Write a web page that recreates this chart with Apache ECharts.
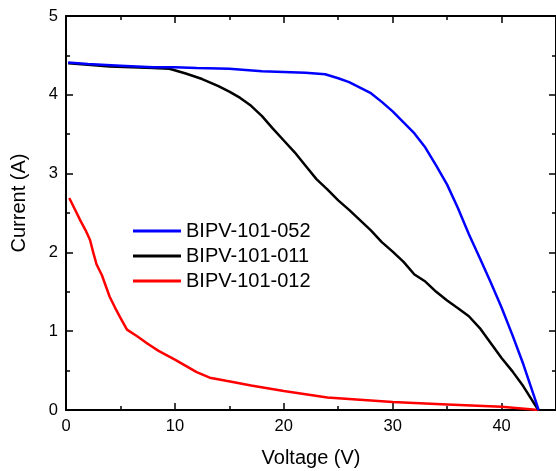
<!DOCTYPE html>
<html>
<head>
<meta charset="utf-8">
<script src="https://cdn.jsdelivr.net/npm/echarts@6/dist/echarts.min.js"></script>
<style>html,body{margin:0;padding:0;background:#fff}#c{width:556px;height:471px}</style>
</head>
<body>
<div id="c"></div>
<script>
var seriesNames = ['BIPV-101-052', 'BIPV-101-011', 'BIPV-101-012'];
var seriesColors = ['#0000ff', '#000000', '#ff0000'];
var blue052 = [[0.2,4.41],[2,4.39],[5,4.37],[8,4.35],[10,4.35],[12,4.34],[15,4.33],[18,4.30],[20,4.29],[22,4.28],[23.8,4.26],[25,4.21],[26,4.16],[27,4.09],[28,4.02],[29,3.91],[30,3.79],[31,3.65],[32,3.51],[33,3.33],[34,3.10],[35,2.86],[36,2.56],[37,2.23],[38,1.93],[39,1.62],[40,1.30],[41,0.95],[42,0.58],[43,0.17],[43.4,0]];
var black011 = [[0.2,4.40],[2,4.38],[4,4.36],[6,4.35],[8,4.34],[9.5,4.33],[11,4.27],[12.5,4.20],[14,4.11],[15,4.04],[16,3.96],[17,3.86],[18,3.73],[19,3.57],[20,3.42],[21,3.27],[22,3.10],[23,2.93],[24,2.80],[25,2.66],[26,2.54],[27,2.41],[28,2.28],[29,2.13],[30,2.01],[31,1.88],[32,1.72],[33,1.63],[34,1.50],[35,1.39],[36,1.29],[37,1.19],[38,1.04],[39,0.85],[40,0.66],[41,0.49],[42,0.30],[43,0.08],[43.4,0]];
var red012 = [[0.3,2.69],[0.8,2.55],[1.3,2.41],[1.8,2.28],[2.2,2.16],[2.5,2.00],[2.8,1.85],[3.3,1.71],[4.0,1.44],[4.5,1.30],[5.0,1.17],[5.6,1.02],[6.5,0.94],[7.5,0.84],[8.5,0.75],[10,0.64],[11,0.56],[12,0.48],[13.2,0.41],[14.7,0.37],[17,0.31],[20,0.24],[22,0.20],[24,0.16],[27,0.13],[30,0.10],[35,0.07],[40,0.04],[43.4,0]];
var xName = 'Voltage (V)';
var yName = 'Current (A)';
var FONT = 'Liberation Sans, Arial, sans-serif';

var chart = echarts.init(document.getElementById('c'), null, {renderer: 'canvas'});
function axisCommon(showLabel) {
  return {
    axisLine: {show: true, onZero: false, lineStyle: {color: '#000', width: 2}},
    axisTick: {show: true, inside: true, length: 7, lineStyle: {color: '#000', width: 1.5}},
    minorTick: {show: true, splitNumber: 2, length: 4, lineStyle: {color: '#000', width: 1.5}},
    splitLine: {show: false},
    axisLabel: {show: showLabel, color: '#000', fontSize: 16.5, fontFamily: FONT, margin: 8, showMaxLabel: false}
  };
}
var xBottom = Object.assign(axisCommon(true), {type: 'value', position: 'bottom', min: 0, max: 45, interval: 10,
  name: xName, nameLocation: 'middle', nameGap: 38, nameTextStyle: {color: '#000', fontSize: 20, fontFamily: FONT}});
xBottom.axisLabel.showMaxLabel = false;
var xTop = Object.assign(axisCommon(false), {type: 'value', position: 'top', min: 0, max: 45, interval: 10});
var yLeft = Object.assign(axisCommon(true), {type: 'value', position: 'left', min: 0, max: 5, interval: 1,
  name: yName, nameLocation: 'middle', nameGap: 37, nameTextStyle: {color: '#000', fontSize: 20, fontFamily: FONT, padding: [0, 0, 0, 20]}});
yLeft.axisLabel.showMaxLabel = true;
var yRight = Object.assign(axisCommon(false), {type: 'value', position: 'right', min: 0, max: 5, interval: 1});

var datas = [blue052, black011, red012];
var series = datas.map(function (d, i) {
  return {
    name: seriesNames[i], type: 'line', data: d, xAxisIndex: 0, yAxisIndex: 0,
    symbol: 'none', smooth: false, lineStyle: {color: seriesColors[i], width: 2.5}, itemStyle: {color: seriesColors[i]},
    z: 3 - i
  };
});

chart.setOption({
  animation: false,
  backgroundColor: '#fff',
  grid: {left: 66, top: 16, right: 0, bottom: 61, containLabel: false, outerBoundsMode: 'none'},
  xAxis: [xBottom, xTop],
  yAxis: [yLeft, yRight],
  legend: {
    orient: 'vertical', left: 128, top: 216,
    data: seriesNames.map(function (n) { return {name: n, icon: 'rect'}; }),
    itemWidth: 48, itemHeight: 3, itemGap: 5,
    textStyle: {color: '#000', fontSize: 20, fontFamily: FONT}
  },
  series: series
});
</script>
</body>
</html>
